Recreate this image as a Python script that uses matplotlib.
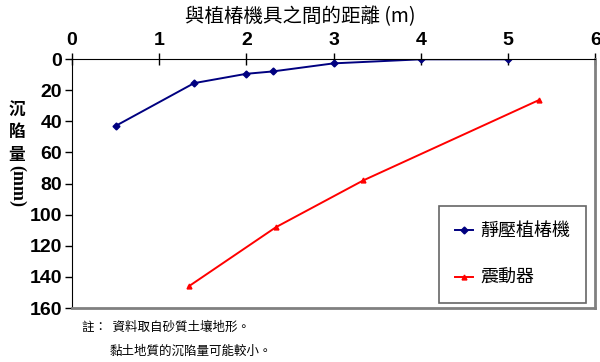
import matplotlib
matplotlib.use('Agg')
import matplotlib.pyplot as plt

# distance from the pile driver (m) and settlement (mm)
static_x = [0.5, 1.4, 2.0, 2.3, 3.0, 4.0, 5.0]
static_y = [43, 15.5, 9.5, 8, 2.8, 0.2, 0.2]
vibro_x = [1.34, 2.34, 3.34, 5.35]
vibro_y = [146, 108, 78, 26.5]

series_names = ['靜壓植椿機', '震動器']
x_title = '與植椿機具之間的距離 (m)'
y_chars = ['沉', '陷', '量']
y_unit = '(mm)'
note_lines = ['註：  資料取自砂質土壤地形。', '黏土地質的沉陷量可能較小。']

cjk = ['Noto Sans CJK TC', 'DejaVu Sans']
num_font = 'Liberation Sans'

fig = plt.figure(figsize=(6.0, 3.62), dpi=100)
ax = fig.add_axes([0.12, 0.149, 0.872, 0.688])

ax.plot(static_x, static_y, color='#000080', lw=1.4, marker='D', ms=3.5,
        label=series_names[0])
ax.plot(vibro_x, vibro_y, color='#ff0000', lw=1.4, marker='^', ms=3.5,
        label=series_names[1])

ax.set_xlim(0, 6)
ax.set_ylim(160, 0)
ax.set_xticks(range(0, 7))
ax.set_yticks(range(0, 161, 20))
ax.xaxis.tick_top()
ax.tick_params(axis='x', direction='inout', length=8, width=1, pad=3)
ax.tick_params(axis='y', direction='out', length=5, width=1, pad=2)
for lab in ax.get_xticklabels() + ax.get_yticklabels():
    lab.set_fontfamily(num_font)
    lab.set_fontweight('bold')
    lab.set_fontsize(14)

ax.spines['top'].set_color('black')
ax.spines['left'].set_color('black')
ax.spines['right'].set_color('#808080')
ax.spines['bottom'].set_color('#808080')
ax.spines['right'].set_linewidth(2)
ax.spines['bottom'].set_linewidth(2)

# title over the top axis
fig.text(0.5, 0.955, x_title, ha='center', va='center', fontsize=14,
         family=cjk)

# vertical y label: upright characters, then rotated unit
for i, ch in enumerate(y_chars):
    fig.text(0.028, 1 - (110 + i * 22.5) / 362, ch, ha='center', va='center',
             fontsize=12, fontweight='bold', family=cjk)
fig.text(0.028, 1 - 186 / 362, y_unit, ha='center', va='center',
         fontsize=13, fontweight='bold', rotation=-90, family='Liberation Serif')

leg = ax.legend(loc='lower right', bbox_to_anchor=(0.983, 0.02),
                prop={'family': cjk, 'size': 13}, frameon=True, fancybox=False,
                borderpad=0.9, labelspacing=1.6, handlelength=1.0,
                handletextpad=0.4, borderaxespad=0)
leg.get_frame().set_edgecolor('#404040')
leg.get_frame().set_linewidth(1.2)

fig.text(82 / 600, 1 - 327 / 362, note_lines[0], ha='left', va='center',
         fontsize=9, family=cjk)
fig.text(110 / 600, 1 - 351 / 362, note_lines[1], ha='left', va='center',
         fontsize=9, family=cjk)

fig.savefig('out.png', dpi=100)
